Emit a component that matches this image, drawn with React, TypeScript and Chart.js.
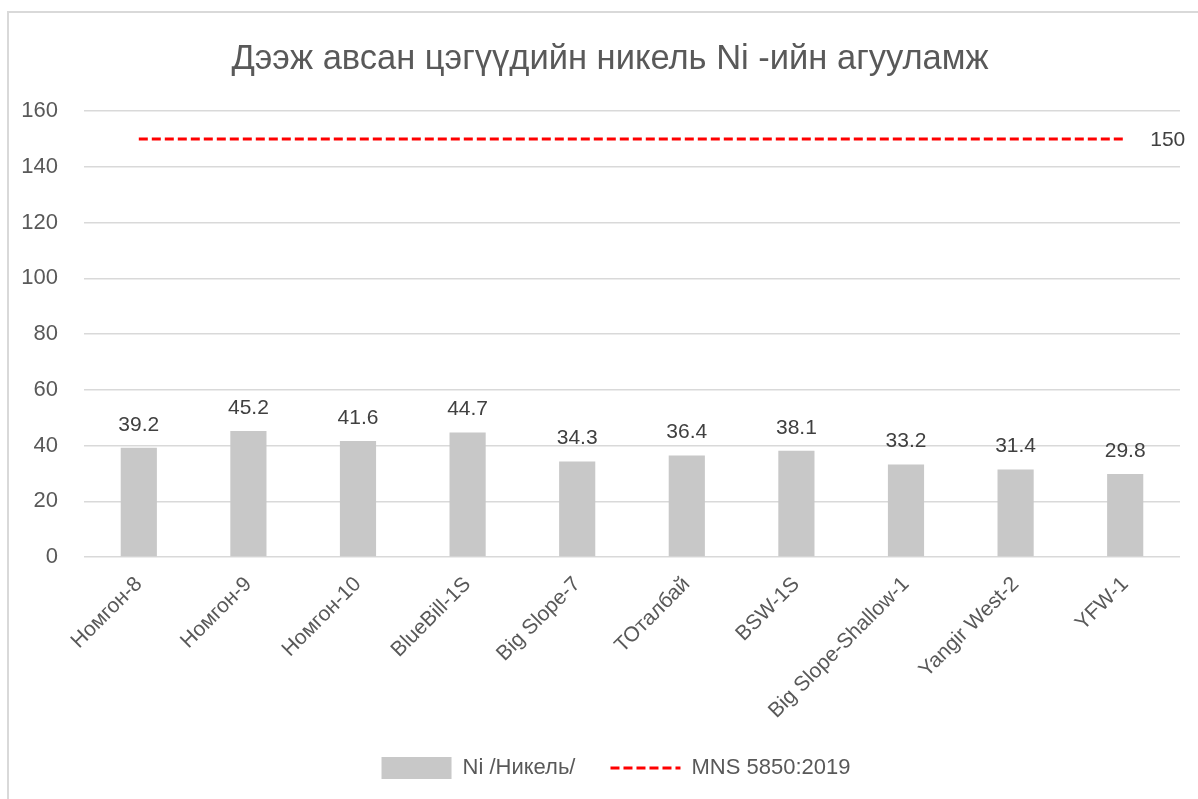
import React, { useEffect, useRef } from 'react';
import { Chart, registerables } from 'chart.js';

Chart.register(...registerables);

const categories = ['Номгон-8', 'Номгон-9', 'Номгон-10', 'BlueBill-1S', 'Big Slope-7', 'ТОталбай', 'BSW-1S', 'Big Slope-Shallow-1', 'Yangir West-2', 'YFW-1'];
const nickelValues = [39.2, 45.2, 41.6, 44.7, 34.3, 36.4, 38.1, 33.2, 31.4, 29.8];
const standardValues = [150, 150, 150, 150, 150, 150, 150, 150, 150, 150];
const standardLabel = '150';
const titleText = 'Дээж авсан цэгүүдийн никель Ni -ийн агууламж';
const barSeriesName = 'Ni /Никель/';
const lineSeriesName = 'MNS 5850:2019';

const FONT = "'Liberation Sans', Arial, sans-serif";
const TEXT = '#595959';
const LINE_DASH = [9, 4];

const framePlugin = {
  id: 'frame',
  afterLayout(chart: any) {
    if (chart.titleBlock) {
      chart.titleBlock.left += 20;
      chart.titleBlock.right += 20;
    }
    if (chart.legend) {
      chart.legend.left += 26;
      chart.legend.right += 26;
    }
  },
  beforeDraw(chart: any) {
    const ctx = chart.ctx;
    ctx.save();
    ctx.fillStyle = '#ffffff';
    ctx.fillRect(0, 0, chart.width, chart.height);
    ctx.strokeStyle = '#d9d9d9';
    ctx.lineWidth = 2;
    ctx.beginPath();
    ctx.moveTo(8, chart.height);
    ctx.lineTo(8, 12);
    ctx.lineTo(chart.width, 12);
    ctx.stroke();
    ctx.restore();
  },
};

const labelPlugin = {
  id: 'valueLabels',
  afterDatasetsDraw(chart: any) {
    const ctx = chart.ctx;
    ctx.save();
    ctx.font = `21px ${FONT}`;
    ctx.fillStyle = '#404040';
    ctx.textAlign = 'center';
    ctx.textBaseline = 'middle';
    const barMeta = chart.getDatasetMeta(0);
    barMeta.data.forEach((el: any, i: number) => {
      ctx.fillText(String(nickelValues[i]), el.x, el.y - 23);
    });
    const lineMeta = chart.getDatasetMeta(1);
    const last = lineMeta.data[lineMeta.data.length - 1];
    if (last) {
      ctx.textAlign = 'left';
      ctx.fillText(standardLabel, last.x + 25, last.y + 1);
    }
    ctx.restore();
  },
};

export default function App() {
  const ref = useRef<HTMLCanvasElement | null>(null);
  useEffect(() => {
    if (!ref.current) return;
    const chart = new Chart(ref.current, {
      type: 'bar',
      data: {
        labels: categories,
        datasets: [
          {
            type: 'bar',
            label: barSeriesName,
            data: nickelValues,
            backgroundColor: '#c8c8c8',
            borderWidth: 0,
            categoryPercentage: 1,
            barPercentage: 0.33,
            pointStyle: 'rect',
          } as any,
          {
            type: 'line',
            label: lineSeriesName,
            data: standardValues,
            borderColor: '#ff0000',
            backgroundColor: '#ff0000',
            borderWidth: 3,
            borderDash: LINE_DASH,
            pointRadius: 0,
            pointStyle: 'line',
            fill: false,
          } as any,
        ],
      },
      options: {
        animation: false,
        responsive: false,
        maintainAspectRatio: false,
        layout: { padding: { left: 0, right: 18, top: 0, bottom: 10 } },
        plugins: {
          title: {
            display: true,
            text: titleText,
            color: TEXT,
            font: { family: FONT, size: 34.5, weight: 'normal' },
            padding: { top: 39, bottom: 30.6 },
          },
          legend: {
            display: true,
            position: 'bottom',
            labels: {
              color: TEXT,
              font: { family: FONT, size: 22 },
              usePointStyle: true,
              pointStyleWidth: 70,
              boxHeight: 22,
              padding: 35,
              generateLabels(chart: any) {
                const items = Chart.defaults.plugins.legend.labels.generateLabels(chart);
                items.forEach((it: any) => {
                  if (it.datasetIndex === 1) {
                    it.lineDash = LINE_DASH;
                    it.lineWidth = 3;
                    it.strokeStyle = '#ff0000';
                  }
                });
                return items;
              },
            },
          },
          tooltip: { enabled: false },
        },
        scales: {
          x: {
            grid: { display: false, drawTicks: false },
            border: { display: false },
            ticks: {
              color: TEXT,
              font: { family: FONT, size: 21 },
              minRotation: 45,
              maxRotation: 45,
              autoSkip: false,
              padding: 15,
            },
            afterFit(scale: any) {
              scale.height = 165;
            },
          },
          y: {
            min: 0,
            max: 160,
            ticks: {
              stepSize: 20,
              color: TEXT,
              font: { family: FONT, size: 22 },
              padding: 26,
            },
            grid: { color: '#d9d9d9', lineWidth: 1.5, drawTicks: false },
            border: { display: false },
            afterFit(scale: any) {
              scale.width = 84;
            },
          },
        },
      },
      plugins: [framePlugin, labelPlugin],
    });
    return () => chart.destroy();
  }, []);
  return (
    <div style={{ position: 'absolute', left: 0, top: 0, width: 1198, height: 799 }}>
      <canvas ref={ref} width={1198} height={799} style={{ width: 1198, height: 799 }} />
    </div>
  );
}
